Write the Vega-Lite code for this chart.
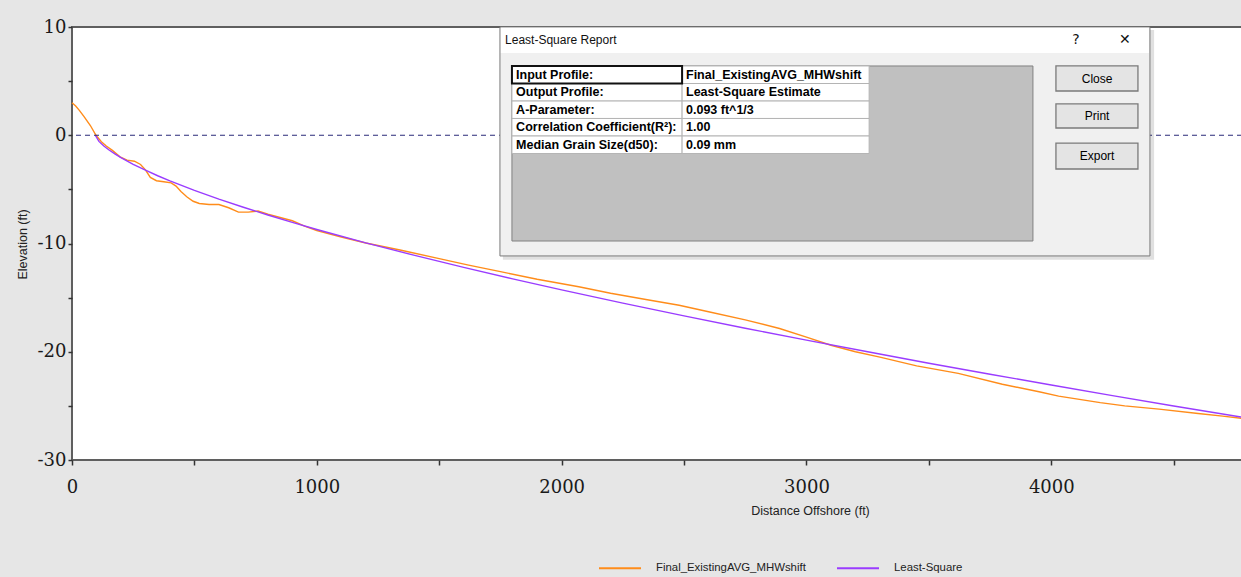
{
  "$schema": "https://vega.github.io/schema/vega-lite/v6.json",
  "width": 1170,
  "height": 433,
  "autosize": {"type": "none"},
  "padding": {"left": 72, "top": 27, "right": 0, "bottom": 117},
  "background": "#e6e6e6",
  "config": {
    "view": {"fill": "#ffffff", "stroke": "#5f5f5f", "strokeWidth": 2}
  },
  "datasets": {
    "profiles": [
      {"series": "Final_ExistingAVG_MHWshift", "dist": 0, "elev": 3.0},
      {"series": "Final_ExistingAVG_MHWshift", "dist": 15, "elev": 2.7},
      {"series": "Final_ExistingAVG_MHWshift", "dist": 30, "elev": 2.3},
      {"series": "Final_ExistingAVG_MHWshift", "dist": 50, "elev": 1.7},
      {"series": "Final_ExistingAVG_MHWshift", "dist": 75, "elev": 0.9},
      {"series": "Final_ExistingAVG_MHWshift", "dist": 98, "elev": 0.0},
      {"series": "Final_ExistingAVG_MHWshift", "dist": 120, "elev": -0.6},
      {"series": "Final_ExistingAVG_MHWshift", "dist": 140, "elev": -1.0},
      {"series": "Final_ExistingAVG_MHWshift", "dist": 165, "elev": -1.4},
      {"series": "Final_ExistingAVG_MHWshift", "dist": 196, "elev": -2.0},
      {"series": "Final_ExistingAVG_MHWshift", "dist": 225, "elev": -2.3},
      {"series": "Final_ExistingAVG_MHWshift", "dist": 255, "elev": -2.4},
      {"series": "Final_ExistingAVG_MHWshift", "dist": 280, "elev": -2.7},
      {"series": "Final_ExistingAVG_MHWshift", "dist": 300, "elev": -3.2},
      {"series": "Final_ExistingAVG_MHWshift", "dist": 320, "elev": -3.9},
      {"series": "Final_ExistingAVG_MHWshift", "dist": 345, "elev": -4.2},
      {"series": "Final_ExistingAVG_MHWshift", "dist": 375, "elev": -4.3},
      {"series": "Final_ExistingAVG_MHWshift", "dist": 405, "elev": -4.4},
      {"series": "Final_ExistingAVG_MHWshift", "dist": 425, "elev": -4.7},
      {"series": "Final_ExistingAVG_MHWshift", "dist": 445, "elev": -5.2},
      {"series": "Final_ExistingAVG_MHWshift", "dist": 470, "elev": -5.7},
      {"series": "Final_ExistingAVG_MHWshift", "dist": 495, "elev": -6.1},
      {"series": "Final_ExistingAVG_MHWshift", "dist": 520, "elev": -6.3},
      {"series": "Final_ExistingAVG_MHWshift", "dist": 560, "elev": -6.4},
      {"series": "Final_ExistingAVG_MHWshift", "dist": 600, "elev": -6.4},
      {"series": "Final_ExistingAVG_MHWshift", "dist": 640, "elev": -6.7},
      {"series": "Final_ExistingAVG_MHWshift", "dist": 680, "elev": -7.1},
      {"series": "Final_ExistingAVG_MHWshift", "dist": 720, "elev": -7.1},
      {"series": "Final_ExistingAVG_MHWshift", "dist": 760, "elev": -7.0},
      {"series": "Final_ExistingAVG_MHWshift", "dist": 800, "elev": -7.3},
      {"series": "Final_ExistingAVG_MHWshift", "dist": 850, "elev": -7.6},
      {"series": "Final_ExistingAVG_MHWshift", "dist": 900, "elev": -7.9},
      {"series": "Final_ExistingAVG_MHWshift", "dist": 950, "elev": -8.4},
      {"series": "Final_ExistingAVG_MHWshift", "dist": 1000, "elev": -8.8},
      {"series": "Final_ExistingAVG_MHWshift", "dist": 1100, "elev": -9.4},
      {"series": "Final_ExistingAVG_MHWshift", "dist": 1200, "elev": -9.95},
      {"series": "Final_ExistingAVG_MHWshift", "dist": 1340, "elev": -10.6},
      {"series": "Final_ExistingAVG_MHWshift", "dist": 1500, "elev": -11.4},
      {"series": "Final_ExistingAVG_MHWshift", "dist": 1620, "elev": -12.0},
      {"series": "Final_ExistingAVG_MHWshift", "dist": 1750, "elev": -12.6},
      {"series": "Final_ExistingAVG_MHWshift", "dist": 1900, "elev": -13.3},
      {"series": "Final_ExistingAVG_MHWshift", "dist": 2070, "elev": -14.0},
      {"series": "Final_ExistingAVG_MHWshift", "dist": 2200, "elev": -14.6},
      {"series": "Final_ExistingAVG_MHWshift", "dist": 2350, "elev": -15.2},
      {"series": "Final_ExistingAVG_MHWshift", "dist": 2480, "elev": -15.7},
      {"series": "Final_ExistingAVG_MHWshift", "dist": 2600, "elev": -16.3},
      {"series": "Final_ExistingAVG_MHWshift", "dist": 2750, "elev": -17.05},
      {"series": "Final_ExistingAVG_MHWshift", "dist": 2890, "elev": -17.85},
      {"series": "Final_ExistingAVG_MHWshift", "dist": 3000, "elev": -18.65},
      {"series": "Final_ExistingAVG_MHWshift", "dist": 3100, "elev": -19.4},
      {"series": "Final_ExistingAVG_MHWshift", "dist": 3200, "elev": -20.0},
      {"series": "Final_ExistingAVG_MHWshift", "dist": 3300, "elev": -20.5},
      {"series": "Final_ExistingAVG_MHWshift", "dist": 3450, "elev": -21.3},
      {"series": "Final_ExistingAVG_MHWshift", "dist": 3620, "elev": -22.0},
      {"series": "Final_ExistingAVG_MHWshift", "dist": 3800, "elev": -23.0},
      {"series": "Final_ExistingAVG_MHWshift", "dist": 3950, "elev": -23.7},
      {"series": "Final_ExistingAVG_MHWshift", "dist": 4030, "elev": -24.1},
      {"series": "Final_ExistingAVG_MHWshift", "dist": 4200, "elev": -24.7},
      {"series": "Final_ExistingAVG_MHWshift", "dist": 4300, "elev": -25.0},
      {"series": "Final_ExistingAVG_MHWshift", "dist": 4440, "elev": -25.3},
      {"series": "Final_ExistingAVG_MHWshift", "dist": 4600, "elev": -25.7},
      {"series": "Final_ExistingAVG_MHWshift", "dist": 4700, "elev": -25.95},
      {"series": "Final_ExistingAVG_MHWshift", "dist": 4779, "elev": -26.15},
      {"series": "Least-Square", "dist": 95, "elev": 0.0},
      {"series": "Least-Square", "dist": 110, "elev": -0.57},
      {"series": "Least-Square", "dist": 130, "elev": -0.99},
      {"series": "Least-Square", "dist": 150, "elev": -1.34},
      {"series": "Least-Square", "dist": 175, "elev": -1.72},
      {"series": "Least-Square", "dist": 200, "elev": -2.07},
      {"series": "Least-Square", "dist": 250, "elev": -2.68},
      {"series": "Least-Square", "dist": 300, "elev": -3.23},
      {"series": "Least-Square", "dist": 350, "elev": -3.74},
      {"series": "Least-Square", "dist": 400, "elev": -4.21},
      {"series": "Least-Square", "dist": 500, "elev": -5.09},
      {"series": "Least-Square", "dist": 600, "elev": -5.9},
      {"series": "Least-Square", "dist": 700, "elev": -6.65},
      {"series": "Least-Square", "dist": 800, "elev": -7.37},
      {"series": "Least-Square", "dist": 900, "elev": -8.05},
      {"series": "Least-Square", "dist": 1000, "elev": -8.71},
      {"series": "Least-Square", "dist": 1200, "elev": -9.94},
      {"series": "Least-Square", "dist": 1400, "elev": -11.1},
      {"series": "Least-Square", "dist": 1600, "elev": -12.21},
      {"series": "Least-Square", "dist": 1800, "elev": -13.27},
      {"series": "Least-Square", "dist": 2000, "elev": -14.29},
      {"series": "Least-Square", "dist": 2250, "elev": -15.51},
      {"series": "Least-Square", "dist": 2500, "elev": -16.69},
      {"series": "Least-Square", "dist": 2750, "elev": -17.83},
      {"series": "Least-Square", "dist": 3000, "elev": -18.93},
      {"series": "Least-Square", "dist": 3250, "elev": -20.0},
      {"series": "Least-Square", "dist": 3500, "elev": -21.06},
      {"series": "Least-Square", "dist": 3750, "elev": -22.08},
      {"series": "Least-Square", "dist": 4000, "elev": -23.07},
      {"series": "Least-Square", "dist": 4250, "elev": -24.05},
      {"series": "Least-Square", "dist": 4500, "elev": -25.01},
      {"series": "Least-Square", "dist": 4779, "elev": -26.04}
    ],
    "dialog": [
      {"part": "shadow", "dist": 1760, "dist2": 4420, "elev": 9.72, "elev2": -11.5},
      {"part": "body", "dist": 1748, "dist2": 4403, "elev": 10.0, "elev2": -11.15},
      {"part": "titlebar", "dist": 1752, "dist2": 4399, "elev": 9.93, "elev2": 7.6},
      {"part": "panel", "dist": 1797, "dist2": 3925, "elev": 6.4, "elev2": -9.77},
      {"part": "cell", "dist": 1797, "dist2": 2492, "elev": 6.4, "elev2": 4.78},
      {"part": "cell", "dist": 2492, "dist2": 3256, "elev": 6.4, "elev2": 4.78},
      {"part": "cell", "dist": 1797, "dist2": 2492, "elev": 4.78, "elev2": 3.16},
      {"part": "cell", "dist": 2492, "dist2": 3256, "elev": 4.78, "elev2": 3.16},
      {"part": "cell", "dist": 1797, "dist2": 2492, "elev": 3.16, "elev2": 1.55},
      {"part": "cell", "dist": 2492, "dist2": 3256, "elev": 3.16, "elev2": 1.55},
      {"part": "cell", "dist": 1797, "dist2": 2492, "elev": 1.55, "elev2": -0.07},
      {"part": "cell", "dist": 2492, "dist2": 3256, "elev": 1.55, "elev2": -0.07},
      {"part": "cell", "dist": 1797, "dist2": 2492, "elev": -0.07, "elev2": -1.69},
      {"part": "cell", "dist": 2492, "dist2": 3256, "elev": -0.07, "elev2": -1.69},
      {"part": "focus", "dist": 1797, "dist2": 2492, "elev": 6.4, "elev2": 4.78},
      {"part": "button", "dist": 4019, "dist2": 4354, "elev": 6.4, "elev2": 4.09},
      {"part": "button", "dist": 4019, "dist2": 4354, "elev": 2.89, "elev2": 0.67},
      {"part": "button", "dist": 4019, "dist2": 4354, "elev": -0.72, "elev2": -3.12}
    ],
    "dialogText": [
      {"part": "title", "dist": 1769, "elev": 8.8, "label": "Least-Square Report"},
      {"part": "icon", "dist": 4101, "elev": 8.8, "label": "?"},
      {"part": "icon", "dist": 4301, "elev": 8.8, "label": "✕"},
      {"part": "cell", "dist": 1814, "elev": 5.59, "label": "Input Profile:"},
      {"part": "cell", "dist": 1814, "elev": 3.97, "label": "Output Profile:"},
      {"part": "cell", "dist": 1814, "elev": 2.36, "label": "A-Parameter:"},
      {"part": "cell", "dist": 1814, "elev": 0.74, "label": "Correlation Coefficient(R²):"},
      {"part": "cell", "dist": 1814, "elev": -0.88, "label": "Median Grain Size(d50):"},
      {"part": "cell", "dist": 2508, "elev": 5.59, "label": "Final_ExistingAVG_MHWshift"},
      {"part": "cell", "dist": 2508, "elev": 3.97, "label": "Least-Square Estimate"},
      {"part": "cell", "dist": 2508, "elev": 2.36, "label": "0.093 ft^1/3"},
      {"part": "cell", "dist": 2508, "elev": 0.74, "label": "1.00"},
      {"part": "cell", "dist": 2508, "elev": -0.88, "label": "0.09 mm"},
      {"part": "button", "dist": 4187, "elev": 5.24, "label": "Close"},
      {"part": "button", "dist": 4187, "elev": 1.78, "label": "Print"},
      {"part": "button", "dist": 4187, "elev": -1.92, "label": "Export"}
    ]
  },
  "layer": [
    {
      "data": {"name": "profiles"},
      "mark": {"type": "line", "strokeWidth": 1.4},
      "encoding": {
        "x": {
          "field": "dist", "type": "quantitative",
          "scale": {"domain": [0, 4779], "nice": false, "zero": false},
          "axis": {
            "title": "Distance Offshore (ft)",
            "values": [0, 500, 1000, 1500, 2000, 2500, 3000, 3500, 4000, 4500],
            "labelExpr": "datum.value % 1000 === 0 ? '' + datum.value : ''",
            "labelFlush": false, "labelOverlap": false,
            "domain": false, "grid": false,
            "tickSize": 5, "tickOffset": 0, "tickColor": "#333333", "tickWidth": 1.5,
            "labelFont": "DejaVu Serif", "labelFontSize": 18, "labelColor": "#1a1a1a", "labelPadding": 13,
            "titleFont": "Liberation Sans", "titleFontSize": 12.5, "titleFontWeight": "normal", "titleColor": "#222222",
            "titleX": 738, "titleY": 44
          }
        },
        "y": {
          "field": "elev", "type": "quantitative",
          "scale": {"domain": [-30, 10], "nice": false, "zero": false},
          "axis": {
            "title": "Elevation (ft)",
            "values": [-30, -25, -20, -15, -10, -5, 0, 5, 10],
            "labelExpr": "datum.value % 10 === 0 ? '' + datum.value : ''",
            "labelFlush": false, "labelOverlap": false,
            "domain": false, "grid": false,
            "tickSize": 4, "tickColor": "#333333", "tickWidth": 1.5,
            "labelFont": "DejaVu Serif", "labelFontSize": 18, "labelColor": "#1a1a1a", "labelPadding": 2,
            "titleFont": "Liberation Sans", "titleFontSize": 12.5, "titleFontWeight": "normal", "titleColor": "#222222",
            "titleX": -43, "titleY": 217
          }
        },
        "color": {
          "field": "series", "type": "nominal",
          "scale": {"domain": ["Final_ExistingAVG_MHWshift", "Least-Square"], "range": ["#ff8c1a", "#9a3cff"]},
          "legend": {
            "orient": "none", "legendX": 526, "legendY": 519, "direction": "horizontal",
            "title": null, "symbolType": "stroke", "symbolSize": 1764, "symbolStrokeWidth": 2,
            "labelFont": "Liberation Sans", "labelFontSize": 11.4, "labelColor": "#222222",
            "labelOffset": 14, "columnPadding": 27, "labelLimit": 0, "padding": 0
          }
        }
      }
    },
    {
      "data": {"values": [{"level": 0}]},
      "mark": {"type": "rule", "stroke": "#2b2b7a", "strokeWidth": 1.2, "strokeDash": [5, 4]},
      "encoding": {"y": {"field": "level", "type": "quantitative", "scale": {"domain": [-30, 10], "nice": false, "zero": false}}}
    },
    {
      "data": {"name": "dialog"},
      "transform": [{"filter": "datum.part === 'shadow'"}],
      "mark": {"type": "rect", "fill": "#000000", "opacity": 0.12},
      "encoding": {
        "x": {"field": "dist", "type": "quantitative", "scale": {"domain": [0, 4779], "nice": false, "zero": false}},
        "x2": {"field": "dist2"},
        "y": {"field": "elev", "type": "quantitative", "scale": {"domain": [-30, 10], "nice": false, "zero": false}},
        "y2": {"field": "elev2"}
      }
    },
    {
      "data": {"name": "dialog"},
      "transform": [{"filter": "datum.part === 'body'"}],
      "mark": {"type": "rect", "fill": "#f0f0f0", "stroke": "#7a7a7a", "strokeWidth": 1},
      "encoding": {
        "x": {"field": "dist", "type": "quantitative", "scale": {"domain": [0, 4779], "nice": false, "zero": false}},
        "x2": {"field": "dist2"},
        "y": {"field": "elev", "type": "quantitative", "scale": {"domain": [-30, 10], "nice": false, "zero": false}},
        "y2": {"field": "elev2"}
      }
    },
    {
      "data": {"name": "dialog"},
      "transform": [{"filter": "datum.part === 'titlebar'"}],
      "mark": {"type": "rect", "fill": "#ffffff"},
      "encoding": {
        "x": {"field": "dist", "type": "quantitative", "scale": {"domain": [0, 4779], "nice": false, "zero": false}},
        "x2": {"field": "dist2"},
        "y": {"field": "elev", "type": "quantitative", "scale": {"domain": [-30, 10], "nice": false, "zero": false}},
        "y2": {"field": "elev2"}
      }
    },
    {
      "data": {"name": "dialog"},
      "transform": [{"filter": "datum.part === 'panel'"}],
      "mark": {"type": "rect", "fill": "#c0c0c0", "stroke": "#808080", "strokeWidth": 1},
      "encoding": {
        "x": {"field": "dist", "type": "quantitative", "scale": {"domain": [0, 4779], "nice": false, "zero": false}},
        "x2": {"field": "dist2"},
        "y": {"field": "elev", "type": "quantitative", "scale": {"domain": [-30, 10], "nice": false, "zero": false}},
        "y2": {"field": "elev2"}
      }
    },
    {
      "data": {"name": "dialog"},
      "transform": [{"filter": "datum.part === 'cell'"}],
      "mark": {"type": "rect", "fill": "#ffffff", "stroke": "#b4b4b4", "strokeWidth": 1},
      "encoding": {
        "x": {"field": "dist", "type": "quantitative", "scale": {"domain": [0, 4779], "nice": false, "zero": false}},
        "x2": {"field": "dist2"},
        "y": {"field": "elev", "type": "quantitative", "scale": {"domain": [-30, 10], "nice": false, "zero": false}},
        "y2": {"field": "elev2"}
      }
    },
    {
      "data": {"name": "dialog"},
      "transform": [{"filter": "datum.part === 'focus'"}],
      "mark": {"type": "rect", "fill": null, "fillOpacity": 0, "stroke": "#111111", "strokeWidth": 2},
      "encoding": {
        "x": {"field": "dist", "type": "quantitative", "scale": {"domain": [0, 4779], "nice": false, "zero": false}},
        "x2": {"field": "dist2"},
        "y": {"field": "elev", "type": "quantitative", "scale": {"domain": [-30, 10], "nice": false, "zero": false}},
        "y2": {"field": "elev2"}
      }
    },
    {
      "data": {"name": "dialog"},
      "transform": [{"filter": "datum.part === 'button'"}],
      "mark": {"type": "rect", "fill": "#e4e4e4", "stroke": "#7a7a7a", "strokeWidth": 1.3},
      "encoding": {
        "x": {"field": "dist", "type": "quantitative", "scale": {"domain": [0, 4779], "nice": false, "zero": false}},
        "x2": {"field": "dist2"},
        "y": {"field": "elev", "type": "quantitative", "scale": {"domain": [-30, 10], "nice": false, "zero": false}},
        "y2": {"field": "elev2"}
      }
    },
    {
      "data": {"name": "dialogText"},
      "transform": [{"filter": "datum.part === 'title'"}],
      "mark": {"type": "text", "align": "left", "baseline": "middle", "font": "Liberation Sans", "fontSize": 12, "color": "#111111"},
      "encoding": {
        "x": {"field": "dist", "type": "quantitative", "scale": {"domain": [0, 4779], "nice": false, "zero": false}},
        "y": {"field": "elev", "type": "quantitative", "scale": {"domain": [-30, 10], "nice": false, "zero": false}},
        "text": {"field": "label"}
      }
    },
    {
      "data": {"name": "dialogText"},
      "transform": [{"filter": "datum.part === 'icon'"}],
      "mark": {"type": "text", "align": "center", "baseline": "middle", "font": "DejaVu Sans", "fontSize": 14, "color": "#111111"},
      "encoding": {
        "x": {"field": "dist", "type": "quantitative", "scale": {"domain": [0, 4779], "nice": false, "zero": false}},
        "y": {"field": "elev", "type": "quantitative", "scale": {"domain": [-30, 10], "nice": false, "zero": false}},
        "text": {"field": "label"}
      }
    },
    {
      "data": {"name": "dialogText"},
      "transform": [{"filter": "datum.part === 'cell'"}],
      "mark": {"type": "text", "align": "left", "baseline": "middle", "font": "Liberation Sans", "fontSize": 12.5, "fontWeight": "bold", "color": "#000000"},
      "encoding": {
        "x": {"field": "dist", "type": "quantitative", "scale": {"domain": [0, 4779], "nice": false, "zero": false}},
        "y": {"field": "elev", "type": "quantitative", "scale": {"domain": [-30, 10], "nice": false, "zero": false}},
        "text": {"field": "label"}
      }
    },
    {
      "data": {"name": "dialogText"},
      "transform": [{"filter": "datum.part === 'button'"}],
      "mark": {"type": "text", "align": "center", "baseline": "middle", "font": "Liberation Sans", "fontSize": 12, "color": "#000000"},
      "encoding": {
        "x": {"field": "dist", "type": "quantitative", "scale": {"domain": [0, 4779], "nice": false, "zero": false}},
        "y": {"field": "elev", "type": "quantitative", "scale": {"domain": [-30, 10], "nice": false, "zero": false}},
        "text": {"field": "label"}
      }
    }
  ]
}
